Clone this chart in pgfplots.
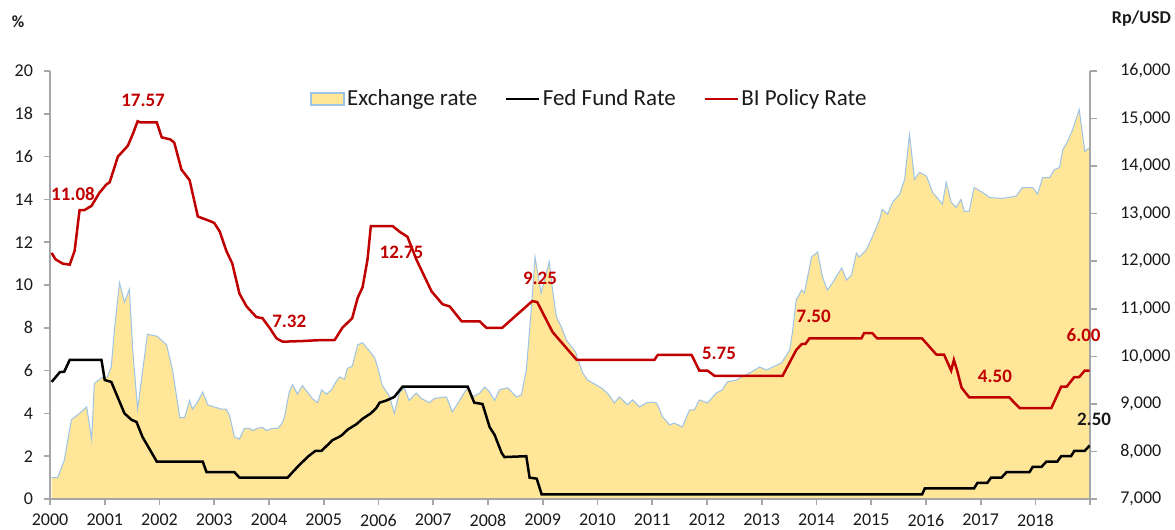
\documentclass[border=0pt]{standalone}
\usepackage{fontspec}
\setmainfont{Carlito}
\usepackage{pgfplots}
\usepackage{pgfplotstable}
\pgfplotsset{compat=1.18}
\definecolor{fillc}{HTML}{FFE699}
\definecolor{edgec}{HTML}{9DC3E6}
\definecolor{bired}{HTML}{C00000}
\definecolor{axgray}{HTML}{A6A6A6}
\definecolor{txt}{HTML}{1A1A1A}

\pgfplotstableread{
t E
2000.03 7450
2000.14 7450
2000.26 7810
2000.39 8665
2000.54 8800
2000.67 8935
2000.76 8260
2000.81 9430
2000.96 9565
2001.05 9565
2001.12 9790
2001.18 10600
2001.27 11545
2001.36 11140
2001.45 11410
2001.51 10150
2001.60 8890
2001.78 10465
2001.96 10420
2002.13 10240
2002.24 9700
2002.37 8710
2002.46 8710
2002.55 9070
2002.60 8890
2002.69 9025
2002.79 9250
2002.88 8980
2003.00 8935
2003.13 8890
2003.22 8890
2003.28 8755
2003.37 8305
2003.46 8260
2003.55 8485
2003.64 8485
2003.70 8440
2003.79 8485
2003.88 8508
2003.95 8440
2004.06 8485
2004.16 8485
2004.23 8575
2004.28 8710
2004.37 9250
2004.43 9408
2004.52 9205
2004.61 9385
2004.70 9250
2004.79 9115
2004.89 9025
2004.96 9295
2005.05 9205
2005.14 9295
2005.23 9475
2005.29 9565
2005.38 9520
2005.43 9745
2005.52 9790
2005.62 10240
2005.71 10285
2005.84 10105
2005.93 9970
2005.98 9790
2006.07 9385
2006.20 9160
2006.29 8800
2006.38 9228
2006.47 9340
2006.56 9070
2006.69 9228
2006.78 9115
2006.93 9025
2007.02 9115
2007.24 9147
2007.35 8832
2007.52 9147
2007.63 9354
2007.72 9147
2007.85 9228
2007.94 9354
2008.03 9250
2008.12 9070
2008.21 9295
2008.36 9340
2008.52 9147
2008.61 9187
2008.70 9712
2008.79 10974
2008.86 12088
2008.97 11330
2009.12 11990
2009.18 11394
2009.25 10827
2009.34 10618
2009.43 10343
2009.60 10091
2009.63 9985
2009.73 9650
2009.82 9502
2010.07 9336
2010.18 9228
2010.31 9020
2010.40 9147
2010.55 8980
2010.64 9084
2010.77 8935
2010.89 9020
2010.98 9038
2011.08 9020
2011.19 8724
2011.32 8557
2011.40 8598
2011.55 8512
2011.68 8872
2011.77 8872
2011.86 9084
2012.01 9020
2012.17 9228
2012.28 9295
2012.37 9462
2012.54 9502
2012.63 9565
2012.78 9650
2012.96 9775
2013.09 9712
2013.20 9775
2013.36 9860
2013.51 10130
2013.56 10490
2013.63 11184
2013.73 11394
2013.78 11331
2013.91 12088
2014.02 12193
2014.11 11668
2014.20 11394
2014.29 11540
2014.46 11857
2014.55 11605
2014.64 11710
2014.73 12172
2014.78 12088
2014.91 12235
2015.02 12509
2015.15 12866
2015.20 13090
2015.30 12990
2015.39 13240
2015.52 13410
2015.61 13720
2015.70 14670
2015.79 13720
2015.88 13870
2016.01 13790
2016.12 13450
2016.30 13200
2016.37 13660
2016.46 13240
2016.55 13130
2016.64 13300
2016.70 13050
2016.79 13050
2016.88 13550
2017.03 13450
2017.16 13340
2017.40 13320
2017.65 13370
2017.76 13550
2017.95 13550
2018.04 13410
2018.13 13760
2018.26 13760
2018.35 13930
2018.44 13970
2018.50 14350
2018.58 14500
2018.68 14770
2018.80 15190
2018.90 14310
2018.99 14390
}\exdata

\pgfplotstableread{
t r
2000.03 5.47
2000.18 5.93
2000.26 5.95
2000.36 6.5
2000.94 6.5
2001.00 5.56
2001.12 5.47
2001.36 4.0
2001.49 3.7
2001.58 3.6
2001.69 2.9
2001.95 1.75
2002.79 1.75
2002.86 1.25
2003.37 1.25
2003.46 1.0
2004.34 1.0
2004.43 1.25
2004.52 1.5
2004.62 1.75
2004.72 2.0
2004.85 2.25
2004.96 2.25
2005.06 2.5
2005.16 2.75
2005.28 2.9
2005.34 3.0
2005.44 3.25
2005.60 3.5
2005.71 3.75
2005.86 4.0
2005.96 4.25
2006.02 4.5
2006.14 4.6
2006.29 4.77
2006.44 5.25
2007.63 5.25
2007.75 4.5
2007.90 4.44
2008.03 3.36
2008.12 3.0
2008.25 2.15
2008.30 1.96
2008.70 2.0
2008.76 1.0
2008.89 0.95
2008.98 0.22
2015.93 0.22
2015.98 0.5
2016.88 0.5
2016.94 0.75
2017.12 0.75
2017.19 1.0
2017.38 1.0
2017.47 1.25
2017.89 1.25
2017.95 1.5
2018.11 1.5
2018.20 1.75
2018.40 1.75
2018.47 2.0
2018.65 2.0
2018.71 2.25
2018.90 2.25
2018.99 2.5
}\feddata

\pgfplotstableread{
t r
2000.03 11.5
2000.10 11.2
2000.23 11.0
2000.36 10.95
2000.45 11.6
2000.54 13.5
2000.63 13.5
2000.76 13.7
2000.90 14.3
2001.03 14.7
2001.09 14.8
2001.24 16.0
2001.42 16.5
2001.52 17.1
2001.60 17.65
2001.65 17.6
2001.95 17.6
2002.04 16.9
2002.20 16.8
2002.27 16.65
2002.40 15.4
2002.55 14.9
2002.70 13.2
2002.91 13.0
2003.00 12.9
2003.10 12.5
2003.22 11.6
2003.33 11.0
2003.46 9.6
2003.59 9.0
2003.77 8.5
2003.88 8.45
2004.01 8.0
2004.14 7.5
2004.25 7.35
2004.60 7.38
2004.90 7.42
2005.20 7.43
2005.34 8.0
2005.52 8.45
2005.62 9.4
2005.71 9.9
2005.80 11.2
2005.86 12.75
2006.26 12.75
2006.38 12.5
2006.53 12.25
2006.69 11.2
2006.97 9.7
2007.17 9.1
2007.30 9.0
2007.52 8.3
2007.85 8.3
2007.97 8.0
2008.26 8.0
2008.81 9.25
2008.90 9.2
2009.18 7.8
2009.62 6.5
2011.04 6.5
2011.10 6.73
2011.72 6.73
2011.86 6.0
2012.01 6.0
2012.14 5.75
2013.38 5.75
2013.63 6.96
2013.73 7.24
2013.80 7.25
2013.87 7.5
2014.82 7.5
2014.87 7.75
2015.02 7.75
2015.11 7.5
2015.93 7.5
2016.19 6.75
2016.33 6.75
2016.46 6.0
2016.51 6.5
2016.57 6.0
2016.65 5.2
2016.79 4.75
2017.52 4.75
2017.71 4.25
2018.29 4.25
2018.47 5.25
2018.57 5.25
2018.71 5.7
2018.80 5.7
2018.90 6.0
2018.99 6.0
}\bidata

\begin{document}
\begin{tikzpicture}
\path[use as bounding box] (-25pt,-15.5pt) rectangle (562.5pt,249.5pt);
\begin{axis}[
  at={(0,0)}, anchor=south west,
  scale only axis, width=520.1pt, height=214pt,
  xmin=2000, xmax=2019, ymin=7000, ymax=16000,
  axis x line=none, axis y line*=right,
  ytick={7000,8000,...,16000},
  scaled y ticks=false,
  tick align=outside, major tick length=3.5pt,
  y axis line style={draw=axgray, line width=0.8pt},
  ytick style={draw=axgray, line width=0.8pt},
  yticklabel style={font=\fontsize{9}{10}\selectfont, text=txt, xshift=8pt},
  /pgf/number format/1000 sep={,},
  /pgf/number format/assume math mode=true,
  axis on top, clip mode=individual,
]
\addplot[draw=none, fill=fillc] table[x=t,y=E] {\exdata} \closedcycle;
\addplot[edgec, line width=0.5pt] table[x=t,y=E] {\exdata};
\end{axis}
\begin{axis}[
  at={(0,0)}, anchor=south west,
  scale only axis, width=520.1pt, height=214pt,
  xmin=2000, xmax=2019, ymin=0, ymax=20,
  axis x line*=bottom, axis y line*=left,
  xtick={2000,2001,2002,2003,2004,2005,2006,2007,2008,2009,2010,2011,2012,2013,2014,2015,2016,2017,2018,2019},
  xticklabels={2000,2001,2002,2003,2004,2005,2006,2007,2008,2009,2010,2011,2012,2013,2014,2015,2016,2017,2018,{}},
  ytick={0,2,...,20},
  tick align=outside, major tick length=3pt,
  axis line style={draw=axgray, line width=0.8pt},
  tick style={draw=axgray, line width=0.8pt},
  ticklabel style={font=\fontsize{9}{10}\selectfont, text=txt},
  xticklabel style={yshift=-1pt},
  yticklabel style={xshift=-2pt},
  /pgf/number format/assume math mode=true,
  clip mode=individual,
  legend columns=3,
  legend cell align=left,
  legend style={at={(0.25,0.9346)}, anchor=west, draw=none, fill=none, inner sep=0pt,
    font=\fontsize{11.5}{13}\selectfont, text=txt,
    nodes={inner sep=1.25pt},
    /tikz/every even column/.append style={column sep=12.5pt}},
]
\addlegendimage{legend image code/.code={\draw[fill=fillc, draw=edgec, line width=0.6pt] (0pt,-3pt) rectangle (16.5pt,3pt);}}
\addlegendentry{Exchange rate}
\addplot[black, line width=1.25pt, legend image code/.code={\draw[black, line width=1.25pt] (0pt,0pt) -- (16.5pt,0pt);}] table[x=t,y=r] {\feddata};
\addlegendentry{Fed Fund Rate}
\addplot[bired, line width=1.25pt, legend image code/.code={\draw[bired, line width=1.25pt] (0pt,0pt) -- (16.5pt,0pt);}] table[x=t,y=r] {\bidata};
\addlegendentry{BI Policy Rate}
\tikzset{lab/.style={font=\bfseries\fontsize{9.5}{11}\selectfont, text=bired}}
\node[lab] at (axis cs:2000.42,14.25) {11.08};
\node[lab] at (axis cs:2001.70,18.64) {17.57};
\node[lab] at (axis cs:2004.37,8.32) {7.32};
\node[lab] at (axis cs:2006.42,11.54) {12.75};
\node[lab] at (axis cs:2008.95,10.33) {9.25};
\node[lab] at (axis cs:2012.22,6.78) {5.75};
\node[lab] at (axis cs:2013.95,8.55) {7.50};
\node[lab] at (axis cs:2017.26,5.75) {4.50};
\node[lab] at (axis cs:2018.88,7.66) {6.00};
\node[lab, text=txt] at (axis cs:2019.07,3.71) {2.50};
\end{axis}
\node[font=\bfseries\fontsize{8.5}{10}\selectfont, text=txt] at (-16pt,238.5pt) {\%};
\node[font=\bfseries\fontsize{9}{10}\selectfont, text=txt] at (545.75pt,240pt) {Rp/USD};
\end{tikzpicture}
\end{document}
